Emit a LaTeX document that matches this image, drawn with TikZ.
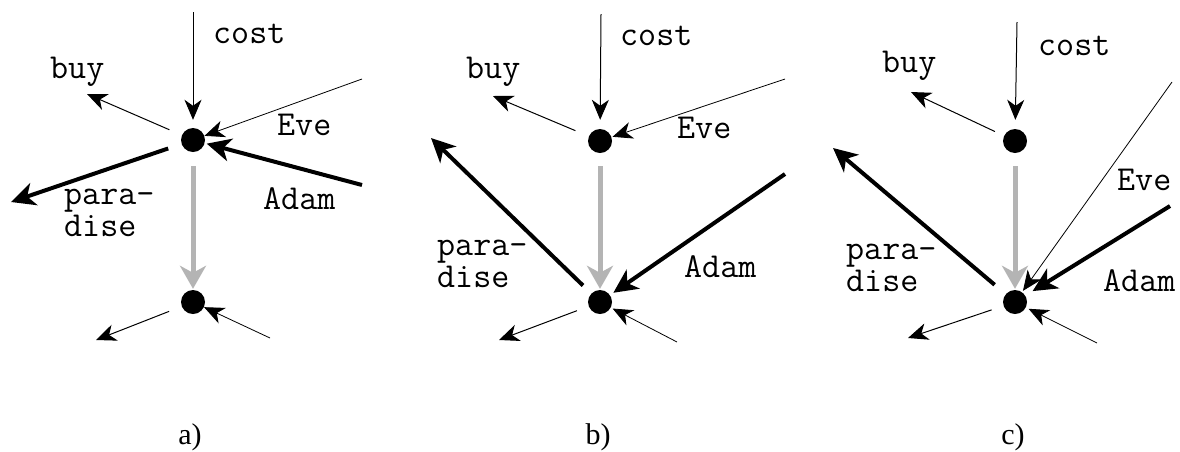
\documentclass[tikz,border=0pt]{standalone}
\usepackage{fontspec}
\setmainfont{Liberation Serif}
\usetikzlibrary{arrows.meta}
\definecolor{lightgr}{RGB}{180,180,180}
\begin{document}
\begin{tikzpicture}[x=1pt,y=-1pt,
  dot/.style={circle,fill=black,inner sep=0pt,minimum size=24pt},
  thinarr/.style={line width=1pt,-{Stealth[length=20pt,width=17pt,inset=6pt]}},
  heavyarr/.style={line width=4pt,-{Stealth[length=24pt,width=23pt,inset=7pt]}},
  grayarr/.style={line width=5pt,lightgr,-{Stealth[length=23pt,width=26pt,inset=7pt]}},
  lbl/.style={font=\ttfamily\fontsize{35}{32}\selectfont,inner sep=0pt,anchor=base west},
  plbl/.style={lbl,align=left},
  sublbl/.style={font=\fontsize{30}{32}\selectfont,inner sep=0pt}
]
\useasboundingbox (0,0) rectangle (1180,451);

% ---------- panel a ----------
\node[dot] (a1) at (193,140) {};
\node[dot] (a2) at (193,302) {};
\coordinate (aCost) at (193,12);
\coordinate (aBuy) at (87,94);
\coordinate (aEve) at (362,79);
\coordinate (aAdam) at (362,185);
\coordinate (aPar) at (11,202);
\coordinate (aOut) at (96,340);
\coordinate (aIn) at (270,338);
\draw[thinarr,shorten >=8pt] (aCost) -- (a1);
\draw[thinarr,shorten <=13.5pt] (a1) -- (aBuy);
\draw[thinarr,line width=0.8pt] (aEve) -- (a1);
\draw[heavyarr,shorten >=2pt] (aAdam) -- (a1);
\draw[heavyarr,shorten <=14pt] (a1) -- (aPar);
\draw[grayarr,shorten <=14pt,shorten >=1pt] (a1) -- (a2);
\draw[thinarr,shorten <=13.5pt] (a2) -- (aOut);
\draw[thinarr,line width=0.8pt] (aIn) -- (a2);
\node[lbl] (aCostL) at (213,43) {cost};
\node[lbl] (aBuyL) at (50,78) {buy};
\node[lbl] (aEveL) at (277,135) {Eve};
\node[lbl] (aAdamL) at (263,209) {Adam};
\node[plbl] (aParL) at (64,236) {para-\\dise};
\node[sublbl] (aCap) at (190,437) {a)};

% ---------- panel b ----------
\node[dot] (b1) at (600,141) {};
\node[dot] (b2) at (600,302) {};
\coordinate (bCost) at (601,14);
\coordinate (bBuy) at (493,96);
\coordinate (bEve) at (785,79);
\coordinate (bAdam) at (785,174);
\coordinate (bPar) at (431,138);
\coordinate (bOut) at (499,340);
\coordinate (bIn) at (677,342);
\draw[thinarr,shorten >=9pt] (bCost) -- (b1);
\draw[thinarr,shorten <=14.5pt] (b1) -- (bBuy);
\draw[thinarr,line width=0.8pt,shorten >=1pt] (bEve) -- (b1);
\draw[heavyarr,shorten >=4pt] (bAdam) -- (b2);
\draw[heavyarr,shorten <=11.5pt] (b2) -- (bPar);
\draw[grayarr,shorten <=13pt,shorten >=1pt] (b1) -- (b2);
\draw[thinarr,shorten <=12.5pt] (b2) -- (bOut);
\draw[thinarr,line width=0.8pt,shorten >=2pt] (bIn) -- (b2);
\node[lbl] (bCostL) at (620,45) {cost};
\node[lbl] (bBuyL) at (466,78) {buy};
\node[lbl] (bEveL) at (677,138) {Eve};
\node[lbl] (bAdamL) at (684,277) {Adam};
\node[plbl] (bParL) at (437,287) {para-\\dise};
\node[sublbl] (bCap) at (598,437) {b)};

% ---------- panel c ----------
\node[dot] (c1) at (1015,141) {};
\node[dot] (c2) at (1015,302) {};
\coordinate (cCost) at (1017,22);
\coordinate (cBuy) at (911,92);
\coordinate (cEve) at (1172,82);
\coordinate (cAdam) at (1170,206);
\coordinate (cPar) at (833,148);
\coordinate (cOut) at (908,338);
\coordinate (cIn) at (1097,343);
\draw[thinarr,shorten >=9pt] (cCost) -- (c1);
\draw[thinarr,shorten <=10pt] (c1) -- (cBuy);
\draw[thinarr,line width=0.8pt,shorten >=1.5pt] (cEve) -- (c2);
\draw[heavyarr,shorten >=8.5pt] (cAdam) -- (c2);
\draw[heavyarr,shorten <=14.5pt] (c2) -- (cPar);
\draw[grayarr,shorten <=13pt,shorten >=1pt] (c1) -- (c2);
\draw[thinarr,shorten <=12.5pt] (c2) -- (cOut);
\draw[thinarr,line width=0.8pt,shorten >=3pt] (cIn) -- (c2);
\node[lbl] (cCostL) at (1038,55) {cost};
\node[lbl] (cBuyL) at (882,72) {buy};
\node[lbl] (cEveL) at (1117,190) {Eve};
\node[lbl] (cAdamL) at (1103,291) {Adam};
\node[plbl] (cParL) at (846,291) {para-\\dise};
\node[sublbl] (cCap) at (1013,437) {c)};
\end{tikzpicture}
\end{document}
